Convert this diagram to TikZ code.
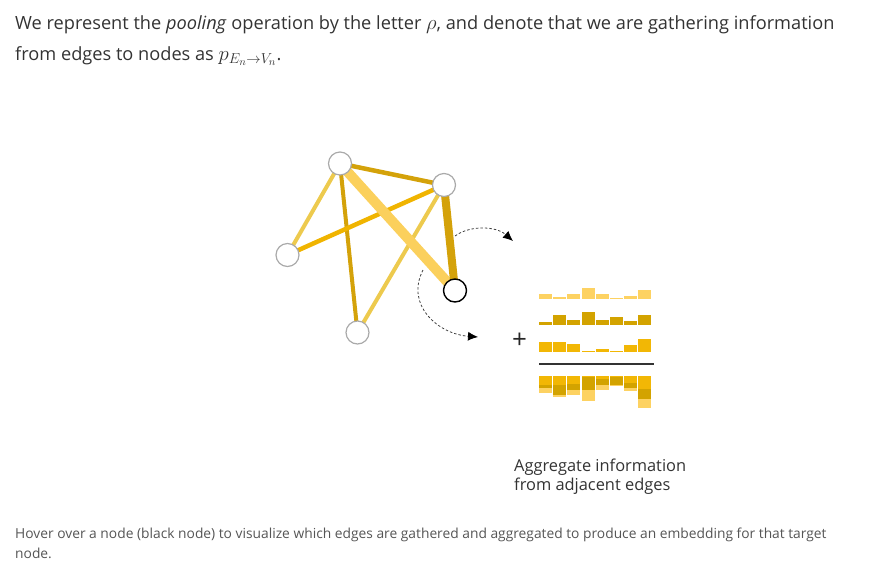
\documentclass[tikz,border=0pt]{standalone}
\usepackage{fontspec}
\setmainfont{Open Sans}
\usetikzlibrary{arrows.meta}
\definecolor{txt}{HTML}{333333}
\definecolor{captxt}{HTML}{555555}
\definecolor{elight}{HTML}{FBD05C}
\definecolor{elight2}{HTML}{EDCA4E}
\definecolor{edark}{HTML}{D4A20A}
\definecolor{egold}{HTML}{F0B400}
\definecolor{barA}{HTML}{FDD262}
\definecolor{barB}{HTML}{D3A300}
\definecolor{barC}{HTML}{F2B705}
\definecolor{nodegray}{HTML}{AAAAAA}
\newcommand{\bigmath}[1]{{\fontsize{22}{22}\selectfont #1}}
\tikzset{
  gnode/.style={circle, draw=nodegray, fill=white, minimum size=23pt, inner sep=0pt, line width=1.2pt},
  tnode/.style={gnode, draw=black, line width=1.4pt},
  edgeline/.style={line cap=butt},
  dasharrow/.style={draw=black!75, line width=0.8pt, dash pattern=on 2.5pt off 2pt, -{Latex[length=10pt,width=9pt,black]}},
  paratext/.style={anchor=base west, inner sep=0pt, text=txt, font=\fontsize{18.2}{21}\selectfont},
  captext/.style={anchor=base west, inner sep=0pt, text=captxt, font=\fontsize{13.8}{16}\selectfont},
  aggtext/.style={anchor=base west, inner sep=0pt, text=txt, font=\fontsize{16.4}{19}\selectfont},
}
\begin{document}
\begin{tikzpicture}[x=1pt,y=-1pt]
\useasboundingbox (0,0) rectangle (874,581);

% paragraph
\node[paratext] (l1) at (15,29) {We represent the \textit{pooling} operation by the letter \bigmath{$\rho$}, and denote that we are gathering information};
\node[paratext] (l2) at (15,60) {from edges to nodes as \bigmath{$p_{E_n\to V_n}$}.};

% graph nodes positions
\coordinate (pA) at (340,163.5);
\coordinate (pB) at (444,185);
\coordinate (pC) at (287.5,255);
\coordinate (pD) at (357.5,332.5);
\coordinate (pE) at (455,290.5);

% edges
\draw[edgeline, elight2, line width=4pt] (pA) -- (pC);
\draw[edgeline, edark, line width=4pt] (pA) -- (pD);
\draw[edgeline, egold, line width=4.5pt] (pB) -- (pC);
\draw[edgeline, elight2, line width=4pt] (pB) -- (pD);
\draw[edgeline, edark, line width=4.5pt] (pA) -- (pB);
\draw[edgeline, elight, line width=10pt] (pA) -- (pE);
\draw[edgeline, edark, line width=8pt] (pB) -- (pE);

% nodes
\node[gnode] (A) at (pA) {};
\node[gnode] (B) at (pB) {};
\node[gnode] (C) at (pC) {};
\node[gnode] (D) at (pD) {};
\node[tnode] (E) at (pE) {};

% dashed arrows
\coordinate (a1s) at (455,236);
\coordinate (a1e) at (513,241);
\coordinate (a2s) at (423,270);
\coordinate (a2e) at (478,337);
\draw[dasharrow] (a1s) .. controls (470,225) and (496,226) .. (a1e);
\draw[dasharrow] (a2s) .. controls (405,305) and (438,334) .. (a2e);

% plus sign
\node[inner sep=0pt, font=\fontsize{26}{26}\selectfont, text=black!85] (plus) at (519.5,341) {+};

% bars
\foreach \h [count=\i from 0] in {5,1.5,5,11,5,1,3,9}
  \fill[barA] ({539+\i*14.2},298.7) rectangle ++(13,-\h);
\foreach \h [count=\i from 0] in {3,10,5.7,13,5.7,8,4.7,10.7}
  \fill[barB] ({539+\i*14.2},325.3) rectangle ++(13,-\h);
\foreach \h [count=\i from 0] in {9.3,9.3,8,1,3,1,7,12.7}
  \fill[barC] ({539+\i*14.2},351.7) rectangle ++(13,-\h);

% sum line
\coordinate (ls) at (539,364);
\coordinate (le) at (654,364);
\draw[black!80, line width=1.4pt] (ls) -- (le);

% aggregated bars
\foreach \c/\b/\a [count=\i from 0] in {9.3/3/5, 9.3/10/1.5, 8/5.7/5, 1/13/11, 3/5.7/5, 1/8/1, 7/4.7/3, 12.7/10.7/9} {
  \fill[barC] ({539+\i*14.2},376) rectangle ++(13,\c);
  \fill[barB] ({539+\i*14.2},{376+\c}) rectangle ++(13,\b);
  \fill[barA] ({539+\i*14.2},{376+\c+\b}) rectangle ++(13,\a);
}

% aggregate label
\node[aggtext] (g1) at (514,471) {Aggregate information};
\node[aggtext] (g2) at (514,490) {from adjacent edges};

% caption
\node[captext] (c1) at (15,538) {Hover over a node (black node) to visualize which edges are gathered and aggregated to produce an embedding for that target};
\node[captext] (c2) at (15,558) {node.};
\end{tikzpicture}
\end{document}
